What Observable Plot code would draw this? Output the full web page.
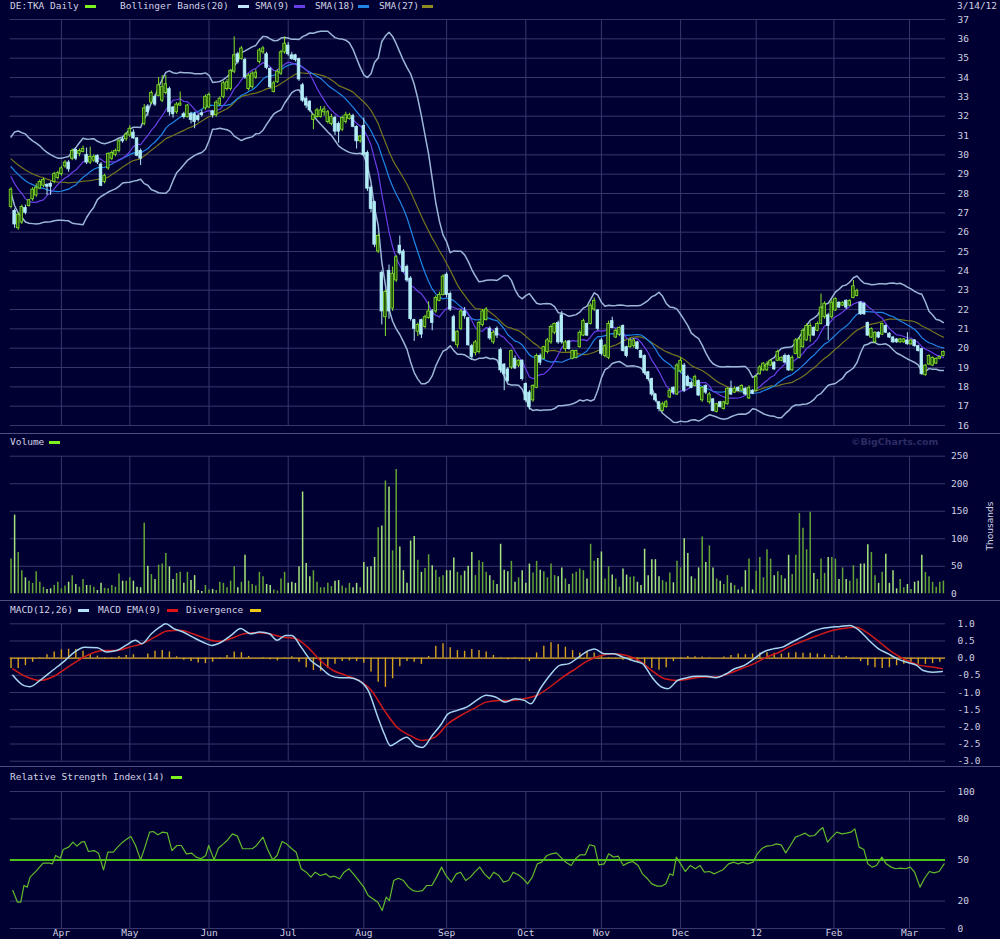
<!DOCTYPE html>
<html><head><meta charset="utf-8">
<script src="https://cdn.jsdelivr.net/npm/d3@7"></script>
<script src="https://cdn.jsdelivr.net/npm/@observablehq/plot@0.6"></script>
<style>
body{margin:0;background:#000033;}
#chart{position:relative;width:1000px;height:939px;overflow:hidden;background:#000033;font-family:"DejaVu Sans Mono",monospace;font-size:9.5px;color:#d2d2e2;}
.panel{position:absolute;left:0;}
.lbl{position:absolute;white-space:pre;line-height:10px;height:10px;}
.sw{position:absolute;height:3px;width:11px;}
.sep{position:absolute;left:0;width:1000px;height:1px;background:#4e4e80;}
</style></head>
<body><div id="chart"></div>
<script>
// ---------- data ----------
const monthTicks = [14,33,55,77,98,121,143,164,186,207,228.6,249.6];
const monthLabels = ["Apr","May","Jun","Jul","Aug","Sep","Oct","Nov","Dec","12","Feb","Mar"];

const opens = [
27.3,27.1,26.2,26.5,27.25,27.35,27.7,27.9,28.25,28.4,
28.45,28.5,28.6,28.8,29.0,29.4,29.6,29.8,30.25,30.05,
30.15,30.0,29.6,29.7,29.95,29.5,28.6,29.3,29.8,30.0,
30.2,30.8,30.8,31.0,31.15,30.85,30.2,31.6,32.5,32.7,
33.0,33.05,32.8,33.2,33.4,32.45,32.2,32.55,32.1,31.95,
32.1,32.1,32.0,32.15,32.4,32.45,32.25,32.05,32.6,33.0,
33.4,33.4,34.3,35.2,34.95,34.9,33.4,33.5,34.0,34.8,
35.3,35.2,34.45,33.25,33.75,34.2,35.3,35.65,35.15,35.15,
34.95,33.6,32.9,32.75,31.8,31.95,31.95,32.2,31.7,31.6,
31.9,31.6,31.3,31.7,31.85,32.0,31.45,30.7,31.5,30.1,
28.3,27.55,25.0,23.9,21.6,24.0,22.05,23.5,25.3,25.0,
24.2,23.6,21.45,20.85,21.45,21.1,21.55,21.9,21.9,22.45,
22.75,23.8,22.8,21.6,20.15,21.0,21.9,21.55,20.1,19.75,
19.8,21.2,21.45,21.0,20.3,21.0,19.9,19.15,18.9,19.0,
19.45,19.1,19.35,18.15,17.7,17.3,17.95,19.6,19.45,19.8,
20.3,20.8,21.3,21.7,19.95,20.35,19.45,19.5,20.05,20.65,
21.25,21.25,22.0,21.95,20.4,19.6,19.5,21.4,20.55,20.7,
21.15,20.05,20.05,20.1,20.3,19.85,19.6,18.75,18.4,17.6,
17.2,16.75,16.95,17.45,17.95,17.6,18.8,19.1,18.5,18.2,
18.05,18.3,17.3,18.05,17.2,17.35,16.7,17.2,16.85,17.1,
17.9,17.7,17.95,17.8,17.9,17.4,17.8,17.8,18.65,18.85,
18.85,19.1,19.25,19.35,19.35,19.6,19.6,18.85,19.7,19.5,
20.05,20.4,20.65,21.05,20.9,21.25,21.6,21.7,21.6,21.95,
22.35,22.2,22.45,22.2,22.6,22.7,22.35,22.3,21.3,20.55,
20.3,20.8,20.7,21.15,20.75,20.55,20.45,20.3,20.3,20.4,
20.2,20.4,20.1,19.95,18.6,19.15,19.1,19.2,19.45,19.6];
const closes = [
28.2,26.4,26.9,27.3,27.0,27.65,28.2,28.3,28.6,28.7,
28.35,28.35,29.0,29.05,29.3,29.6,29.25,30.2,29.8,30.2,
30.3,29.6,29.9,29.9,29.6,28.4,28.9,30.05,30.1,30.2,
30.7,30.7,31.05,31.35,30.85,29.95,29.8,32.4,32.2,33.2,
32.6,33.6,33.5,33.65,32.2,32.1,32.6,32.65,31.95,32.55,
31.8,31.7,31.8,32.05,33.0,33.1,32.05,32.7,32.9,33.7,
33.75,34.35,35.15,34.8,35.5,34.0,34.1,34.2,34.25,35.4,
35.5,34.5,33.5,33.7,34.3,35.3,35.75,35.2,34.95,34.9,
33.9,32.8,32.55,32.3,32.05,32.3,32.3,32.35,32.2,31.95,
31.2,31.2,31.9,32.05,32.05,31.45,30.7,30.95,30.0,28.25,
27.2,25.35,25.8,21.9,22.9,21.9,23.85,24.7,24.9,23.95,
23.5,21.5,21.0,21.2,20.7,21.6,21.9,21.3,22.6,22.75,
23.7,22.75,22.0,20.35,20.85,21.9,21.65,20.15,19.55,20.3,
21.3,21.9,22.0,20.5,20.8,20.65,18.85,18.65,18.3,19.85,
18.95,19.35,18.4,17.3,16.95,18.05,19.6,19.25,20.05,20.4,
21.1,21.25,20.3,20.3,20.3,19.95,19.85,19.85,20.8,21.4,
20.65,22.2,22.45,21.0,19.7,20.1,21.25,21.05,20.9,21.05,
19.85,19.6,20.4,20.4,19.95,19.5,18.7,18.4,17.6,17.3,
16.85,17.1,17.2,17.8,17.7,19.1,19.35,17.8,18.05,17.95,
18.5,17.55,17.95,17.7,17.6,16.75,17.1,16.95,17.2,17.9,
17.6,17.9,17.8,18.05,17.6,17.95,17.65,18.5,19.0,19.2,
19.15,19.35,18.9,19.8,19.5,19.25,18.85,19.5,20.4,20.45,
20.9,21.15,21.15,20.65,21.25,22.1,22.3,21.15,22.35,22.55,
22.1,22.35,22.1,22.45,23.2,22.95,21.75,21.75,20.65,21.0,
20.8,20.55,21.25,20.8,20.55,20.3,20.3,20.45,20.45,20.2,
20.4,20.1,19.85,18.65,19.1,19.6,19.5,19.45,19.55,19.8];
const highs = [
28.3,27.2,27.0,27.4,27.4,27.7,28.3,28.5,28.7,28.8,
28.5,28.6,29.1,29.15,29.4,29.7,29.7,30.3,30.3,30.3,
30.45,30.35,30.4,30.0,30.0,29.6,29.0,30.1,30.2,30.3,
30.8,30.9,31.15,31.5,31.3,30.9,30.3,32.6,32.6,33.3,
33.1,34.0,34.1,34.1,33.5,32.5,32.7,33.25,32.2,32.6,
32.2,32.2,32.1,32.3,33.1,33.2,32.3,32.8,33.0,33.8,
33.9,34.4,36.1,35.3,35.6,35.0,34.2,34.3,34.4,35.5,
35.6,35.3,34.5,33.8,34.4,35.4,36.1,35.8,35.3,35.2,
35.0,33.7,33.0,32.8,32.1,32.4,32.5,32.5,32.3,32.1,
32.0,31.7,32.0,32.2,32.15,32.1,31.5,31.0,31.9,30.2,
28.4,27.6,25.9,24.0,23.0,24.3,24.2,24.8,25.8,25.1,
24.3,23.7,21.5,21.3,21.5,21.7,22.4,22.0,22.7,22.9,
23.8,23.9,22.9,21.7,20.9,22.0,22.1,21.6,20.2,20.4,
21.4,22.0,22.1,21.1,20.9,21.1,20.0,19.2,19.0,19.9,
19.6,19.4,19.4,18.2,17.8,18.1,19.7,19.7,20.1,20.5,
21.2,21.3,21.4,21.9,20.4,20.4,19.9,19.9,20.9,21.5,
21.3,22.3,22.6,22.0,20.5,20.2,21.4,21.6,21.0,21.1,
21.2,20.1,20.5,20.5,20.35,19.9,19.65,18.8,18.45,17.65,
17.25,17.2,17.3,17.9,18.0,19.2,19.5,19.2,18.6,18.3,
18.6,18.35,18.0,18.1,17.7,17.4,17.15,17.25,17.25,17.95,
18.3,18.0,18.0,18.1,17.95,18.05,17.85,18.6,19.1,19.25,
19.3,19.4,19.3,19.9,19.55,19.7,19.65,19.6,20.5,20.55,
21.0,21.25,21.3,21.1,21.35,22.8,22.4,21.8,22.5,22.6,
22.4,22.4,22.5,22.5,23.5,23.05,22.4,22.35,21.35,21.05,
20.85,20.85,21.3,21.2,20.8,20.6,20.5,20.5,20.5,20.8,
20.45,20.45,20.15,20.0,19.15,19.65,19.55,19.5,19.6,19.85];
const lows = [
27.2,26.2,26.1,26.4,26.9,27.3,27.6,27.8,28.2,28.3,
27.9,27.9,28.5,28.7,28.9,29.3,29.1,29.7,29.7,29.9,
30.1,29.5,29.5,29.6,29.5,28.35,28.5,29.2,29.7,29.9,
30.1,30.6,30.7,30.9,30.8,29.9,29.45,31.5,32.0,32.6,
32.5,33.0,32.7,33.1,32.0,31.9,32.1,32.5,31.85,31.9,
31.6,31.35,31.7,31.95,32.3,32.4,31.9,31.95,32.5,32.9,
33.3,33.3,34.2,34.7,34.9,33.9,33.3,33.4,33.9,34.7,
35.2,34.4,33.4,33.2,33.7,34.1,35.2,35.1,34.9,34.8,
33.8,32.7,32.4,32.2,31.3,31.9,31.9,32.0,31.6,31.5,
31.0,30.6,31.2,31.6,31.8,31.4,30.3,30.6,29.9,28.1,
27.0,25.2,24.9,21.2,20.6,21.5,21.9,23.4,24.8,23.9,
23.4,21.4,20.35,20.6,20.5,21.0,21.5,20.9,21.8,22.4,
22.7,22.6,21.9,20.3,20.0,20.9,21.5,20.1,19.4,19.6,
19.7,21.1,21.4,20.4,20.2,20.5,18.7,17.8,18.2,18.9,
18.9,19.0,18.3,17.2,16.8,17.2,17.9,19.1,19.4,19.7,
20.2,20.7,20.2,20.2,19.8,19.9,19.4,19.45,20.0,20.6,
20.6,21.2,21.9,20.9,19.6,19.5,19.4,21.0,20.5,20.6,
19.8,19.5,20.0,20.0,19.9,19.45,18.6,18.3,17.5,17.2,
16.7,16.7,16.9,17.4,17.6,17.55,18.7,17.7,18.0,17.9,
18.0,17.5,17.2,17.6,17.1,16.7,16.65,16.9,16.8,17.05,
17.55,17.65,17.75,17.75,17.55,17.35,17.6,17.75,18.6,18.8,
18.8,19.05,18.85,19.3,19.3,19.2,18.8,18.8,19.65,19.45,
20.0,20.35,20.3,20.6,20.85,21.2,21.5,20.4,21.5,21.9,
22.05,22.15,22.0,22.15,22.55,22.65,21.7,21.7,20.6,20.5,
20.25,20.5,20.65,20.75,20.5,20.25,20.25,20.25,20.25,20.15,
20.15,20.05,19.8,18.6,18.55,19.1,19.05,19.15,19.4,19.55];
// closes of the 26 sessions before the first candle (estimated from where the averages start)
const priorCloses = [30.8,31.0,30.9,30.6,30.4,30.5,30.7,30.4,30.2,30.3,30.1,30.4,29.9,29.6,29.8,30.0,29.6,29.4,29.6,29.5,29.3,29.4,29.0,28.6,28.3,27.9];
// volume, thousands
const volumes = [
63,143,75,42,29,23,19,40,21,12, 8,9,15,21,9,14,21,33,17,12,
26,15,15,12,6,19,10,9,15,12, 36,23,23,29,23,12,11,128,50,35,
26,52,54,73,49,26,37,39,19,39, 24,33,6,4,15,7,8,6,21,19,
11,23,49,11,21,70,23,17,14,39, 31,17,15,7,5,27,39,19,21,19,
49,185,55,31,42,21,11,11,19,13, 23,24,14,10,19,11,19,11,57,48,
49,66,120,123,205,194,78,226,85,42, 19,96,104,61,39,46,71,51,43,30,
33,42,42,65,39,33,41,50,75,33, 60,57,39,33,24,17,90,43,40,59,
21,29,42,19,54,38,59,43,40,29, 54,33,31,47,27,17,36,39,45,42,
27,90,59,64,76,27,49,34,27,12, 45,34,30,31,21,15,81,33,62,62,
31,24,21,38,20,59,47,100,73,31, 27,47,103,57,87,47,27,23,17,33,
19,15,7,12,42,63,7,41,66,29, 80,63,33,40,33,27,70,35,70,146,
119,80,148,37,26,63,37,66,66,63, 26,47,26,23,51,27,54,54,89,75,
33,19,39,72,19,42,9,26,11,17, 8,21,23,70,39,31,21,12,21,23];
// MACD(12,26) line [session, value]
const macdLine = [[0.5,-0.50],[3.6,-0.80],[5.3,-0.83],[8,-0.65],[11.5,-0.36],[15,-0.07],[17.7,0.18],[20.4,0.32],[24,0.30],[26.6,0.18],[29.3,0.22],[31.9,0.37],[34.6,0.52],[36.3,0.42],[39,0.71],[41.3,0.90],[43,1.0],[45.2,0.86],[47.8,0.76],[50.5,0.61],[53.2,0.47],[55.8,0.37],[58.5,0.47],[61.1,0.66],[63.8,0.86],[66.5,0.71],[69.1,0.76],[71.8,0.71],[73.9,0.52],[76.2,0.66],[78,0.66],[80.6,0.32],[83.3,-0.07],[85.9,-0.27],[88.6,-0.50],[91.3,-0.57],[93.9,-0.57],[96.6,-0.65],[99.2,-0.94],[101.9,-1.72],[103.7,-2.21],[105.4,-2.55],[107.2,-2.45],[109.9,-2.30],[112.5,-2.55],[114.3,-2.60],[117,-2.25],[119.6,-1.91],[121.4,-1.62],[124,-1.52],[126.7,-1.42],[129.3,-1.23],[132,-1.08],[134.6,-1.13],[137.3,-1.28],[140,-1.18],[142.6,-1.23],[144.4,-1.33],[147,-0.89],[149.7,-0.50],[152.4,-0.21],[155,-0.16],[157.7,0.03],[160.4,0.22],[162.1,0.27],[164.8,0.13],[167.4,0.13],[170,0.03],[172.7,-0.07],[175.4,-0.16],[178,-0.55],[180.7,-0.84],[182.5,-0.89],[185.1,-0.65],[187.8,-0.57],[190.5,-0.53],[193.1,-0.53],[195.8,-0.57],[198.4,-0.47],[201,-0.31],[203.7,-0.21],[206.4,-0.02],[209,0.18],[211.7,0.27],[214.3,0.32],[217,0.47],[219.7,0.61],[222.3,0.76],[225,0.86],[227.7,0.90],[230.3,0.92],[233,0.95],[235.6,0.81],[238.3,0.52],[241,0.27],[243.6,0.13],[246.2,-0.02],[248.9,-0.12],[251.6,-0.21],[253.4,-0.36],[256,-0.41],[258.7,-0.39]];
// MACD EMA(9) signal line [session, value]
const signalLine = [[0.5,-0.31],[4.4,-0.55],[8.1,-0.65],[11.5,-0.55],[15.1,-0.31],[18.6,-0.07],[22.2,0.13],[25.7,0.22],[29.3,0.22],[32.8,0.32],[36.3,0.42],[39.9,0.61],[43.4,0.79],[47,0.81],[50.5,0.71],[54.1,0.57],[57.6,0.49],[61.1,0.57],[64.7,0.71],[68.2,0.74],[71.8,0.71],[75.3,0.61],[78.9,0.57],[82.4,0.32],[85.9,-0.07],[89.5,-0.36],[93,-0.50],[96.6,-0.65],[100.1,-0.94],[103.7,-1.52],[107.2,-2.01],[110.8,-2.25],[114.3,-2.40],[117.8,-2.30],[121.4,-1.91],[124.9,-1.67],[128.5,-1.47],[132,-1.28],[135.5,-1.23],[139.1,-1.23],[142.6,-1.18],[146.2,-1.08],[149.7,-0.84],[153.3,-0.55],[156.8,-0.31],[160.3,-0.07],[163.9,0.08],[167.4,0.13],[171,0.08],[174.5,-0.07],[178,-0.36],[181.6,-0.60],[185.1,-0.65],[188.7,-0.60],[192.2,-0.55],[195.8,-0.55],[199.3,-0.45],[202.8,-0.31],[206.4,-0.16],[209.9,0.03],[213.5,0.18],[217,0.37],[220.6,0.52],[224.1,0.66],[227.7,0.79],[231.2,0.86],[234.7,0.90],[238.3,0.71],[241.8,0.42],[245.4,0.13],[248.9,-0.07],[252.5,-0.21],[256,-0.26],[258.7,-0.31]];
// divergence histogram [session, value]
const divergence = [[0,-0.30],[2,-0.30],[4,-0.22],[6,-0.12],[8,0.02],[10,0.10],[12,0.18],[14,0.24],[16,0.26],[18,0.25],[20,0.20],[22,0.10],[24,0.06],[26,-0.04],[28,0.02],[30,0.05],[32,0.08],[34,0.10],[36,0.00],[38,0.12],[40,0.20],[42,0.22],[44,0.18],[46,0.04],[48,-0.06],[50,-0.10],[52,-0.14],[54,-0.16],[56,-0.12],[58,-0.04],[60,0.08],[62,0.18],[64,0.16],[66,0.05],[68,0.00],[70,0.02],[72,-0.05],[74,-0.08],[76,0.02],[78,0.04],[80,-0.12],[82,-0.28],[84,-0.36],[86,-0.38],[88,-0.30],[90,-0.18],[92,-0.10],[94,-0.08],[96,-0.10],[98,-0.15],[100,-0.40],[102,-0.70],[104,-0.85],[106,-0.60],[108,-0.25],[110,-0.10],[112,-0.12],[114,-0.18],[116,0.05],[118,0.35],[120,0.42],[122,0.30],[124,0.22],[126,0.20],[128,0.25],[130,0.22],[132,0.18],[134,0.08],[136,0.02],[138,-0.05],[140,0.02],[142,-0.05],[144,-0.10],[146,0.15],[148,0.35],[150,0.45],[152,0.40],[154,0.32],[156,0.22],[158,0.15],[160,0.20],[162,0.15],[164,0.05],[166,0.02],[168,-0.02],[170,-0.06],[172,-0.08],[174,-0.10],[176,-0.22],[178,-0.30],[180,-0.35],[182,-0.28],[184,-0.10],[186,0.02],[188,0.05],[190,0.04],[192,0.03],[194,0.02],[196,0.00],[198,0.03],[200,0.08],[202,0.12],[204,0.10],[206,0.12],[208,0.15],[210,0.16],[212,0.14],[214,0.12],[216,0.15],[218,0.16],[220,0.14],[222,0.14],[224,0.12],[226,0.10],[228,0.08],[230,0.06],[232,0.05],[234,0.02],[236,-0.10],[238,-0.22],[240,-0.28],[242,-0.30],[244,-0.28],[246,-0.22],[248,-0.18],[250,-0.14],[252,-0.18],[254,-0.18],[256,-0.16],[258,-0.12]];
// RSI(14) [session, value]
const rsiLine = [[0.5,27.7],[1.8,19.2],[2.7,19.2],[3.6,31.4],[4.5,30.2],[5.3,37.5],[7.1,42.3],[8.9,47.7],[10.6,47.7],[11.5,47.2],[12.4,53.3],[13.7,51.3],[14.5,57.7],[16,59.4],[17.2,63.0],[18.3,60.1],[19.5,63.0],[20.4,63.5],[21.5,56.2],[23.1,56.9],[24.3,55.0],[25.7,42.8],[26.9,55.7],[28.4,55.7],[29.6,59.4],[31,63.0],[32.3,65.5],[33.3,67.2],[34.6,60.6],[36,50.1],[37.2,59.4],[38.5,70.3],[39.5,70.8],[40.8,68.4],[42,70.3],[43.4,69.8],[44.7,56.9],[46.1,60.6],[47.3,60.6],[48.7,54.5],[50.2,55.0],[51.4,52.1],[52.8,50.9],[54.1,53.3],[54.9,60.6],[56.4,50.1],[57.6,58.6],[59,61.8],[60.3,65.0],[61.5,69.1],[62.9,67.4],[64.3,58.2],[65.6,58.2],[67,58.2],[68.2,60.6],[70,66.7],[71.2,58.2],[72.7,50.1],[73.9,53.3],[75.3,63.5],[76.5,61.8],[78,58.2],[79.2,55.7],[80.6,43.6],[82,41.1],[83.3,37.5],[84.5,41.1],[85.9,38.7],[87.4,39.9],[88.6,37.5],[89.8,38.2],[91.3,36.3],[92.5,41.1],[93.9,43.6],[95.1,39.9],[96.6,35.0],[98,30.2],[99.2,24.1],[100.5,21.7],[101.9,19.2],[103.1,13.1],[104.2,22.9],[105.1,20.4],[106.3,35.0],[107.6,36.7],[109,35.0],[110.4,30.2],[111.6,27.7],[112.9,27.0],[114.3,27.7],[115.5,31.4],[116.9,31.4],[118.2,37.5],[119.6,44.8],[120.8,38.7],[122.3,33.8],[123.7,39.9],[124.9,41.1],[126.3,35.0],[127.6,37.5],[128.8,41.1],[130.2,44.8],[131.5,39.9],[132.9,36.3],[134.1,41.1],[135.5,38.7],[136.8,33.8],[138.2,35.0],[139.5,41.1],[140.9,39.2],[142.3,36.3],[143.5,32.6],[144.8,37.5],[146.2,47.2],[147.4,48.4],[148.9,53.3],[150.1,54.5],[151.5,55.2],[152.7,52.1],[154.1,48.4],[155.6,46.0],[156.8,50.9],[158.1,53.8],[159.5,53.8],[160.7,61.1],[162.1,60.1],[163.3,46.5],[164.8,47.2],[166,54.5],[167.4,52.1],[168.7,52.8],[170.1,46.0],[171.3,47.9],[172.7,48.9],[174.2,46.0],[175.4,39.9],[176.8,36.3],[178,32.6],[179.5,30.9],[180.7,30.9],[181.9,32.6],[183,39.9],[183.9,38.7],[184.8,52.1],[186,47.2],[187.3,41.6],[188.7,46.0],[190.1,43.6],[191.4,46.0],[192.6,41.1],[194,41.6],[195.4,39.9],[196.7,41.6],[197.9,43.1],[199.3,47.2],[200.8,48.4],[202,47.2],[203.2,48.4],[204.6,47.2],[206.1,48.4],[207.3,54.5],[208.7,58.6],[209.9,60.1],[211.4,60.6],[212.6,61.8],[213.9,61.1],[215.2,55.2],[216.5,60.6],[217.9,66.7],[219.1,67.9],[220.6,69.6],[221.8,67.4],[223.2,67.9],[224.5,71.5],[225.5,73.7],[226.8,63.0],[228,66.7],[229.4,70.3],[230.8,69.1],[232.1,69.6],[233.3,70.3],[234.4,72.7],[235.6,59.4],[236.9,57.7],[238,47.2],[239.2,44.8],[240.4,46.0],[241.9,52.1],[243.1,47.2],[244.5,44.8],[245.7,43.6],[247.1,44.0],[248.5,43.6],[249.8,44.8],[251,41.1],[252.5,30.2],[253.7,36.3],[255.1,41.6],[256.4,40.6],[257.8,41.6],[259.2,47.2]];

// ---------- styling ----------
const GRID = "#37376c", TXT = "#d0d0e0";
const C_UP = "#86e62a", C_UPFILL = "#23500c", C_DN = "#b2ecf6";
const C_BB = "#9bb6d6", C_S9 = "#6a3ee6", C_S18 = "#1f86e8", C_S27 = "#74741f";
const FONT = "DejaVu Sans Mono";

const chart = document.getElementById("chart");
function addLbl(text, left, top, extra) {
  const d = document.createElement("div"); d.className = "lbl"; d.textContent = text;
  d.style.left = left + "px"; d.style.top = top + "px";
  if (extra) Object.assign(d.style, extra);
  chart.appendChild(d);
}
function addSw(color, left, top) {
  const d = document.createElement("div"); d.className = "sw";
  d.style.left = left + "px"; d.style.top = top + "px"; d.style.background = color;
  chart.appendChild(d);
}
function addSep(top) {
  const d = document.createElement("div"); d.className = "sep"; d.style.top = top + "px"; chart.appendChild(d);
}
function place(svg, top) {
  const w = document.createElement("div"); w.className = "panel"; w.style.top = top + "px";
  w.appendChild(svg); chart.appendChild(w);
}

// derived tables
const days = closes.map((c, i) => ({i, o: opens[i], c, h: highs[i], l: lows[i], v: volumes[i], up: c >= opens[i]}));
const all = priorCloses.concat(closes), P = priorCloses.length;
function win(n, i) { return all.slice(P + i - n + 1, P + i + 1); }
const ind = closes.map((c, i) => {
  const w20 = win(20, i), m = d3.mean(w20);
  const sd = Math.sqrt(d3.mean(w20, v => (v - m) ** 2));
  return {i, s9: d3.mean(win(9, i)), s18: d3.mean(win(18, i)), s27: d3.mean(win(27, i)), bu: m + 2 * sd, bl: m - 2 * sd};
});
const months = monthTicks.map((t, k) => ({t, label: monthLabels[k]}));

const common = {
  width: 1000, marginLeft: 9.8, marginRight: 53.5,
  x: {domain: [-0.2, 260], axis: null},
  style: {background: "transparent", color: TXT, fontFamily: FONT, fontSize: "9.5px", overflow: "visible"}
};
const X1 = -0.2, X2 = 259.6;

// ---------- price panel ----------
const pricePlot = Plot.plot({
  ...common, height: 433, marginTop: 19, marginBottom: 8,
  y: {domain: [16, 37], axis: null, label: null},
  marks: [
    Plot.ruleY(d3.range(16, 38), {x1: X1, x2: X2, stroke: GRID}),
    Plot.ruleX(monthTicks, {y1: 16, y2: 37, stroke: GRID}),
    Plot.line(ind, {x: "i", y: "bu", stroke: C_BB, strokeWidth: 1.5}),
    Plot.line(ind, {x: "i", y: "bl", stroke: C_BB, strokeWidth: 1.5}),
    Plot.line(ind, {x: "i", y: "s27", stroke: C_S27, strokeWidth: 1.2}),
    Plot.line(ind, {x: "i", y: "s18", stroke: C_S18, strokeWidth: 1.2}),
    Plot.line(ind, {x: "i", y: "s9", stroke: C_S9, strokeWidth: 1.2}),
    Plot.ruleX(days, {x: "i", y1: "l", y2: "h", stroke: d => d.up ? C_UP : C_DN, strokeWidth: 1}),
    Plot.rect(days, {x1: d => d.i - 0.36, x2: d => d.i + 0.36, y1: d => Math.min(d.o, d.c), y2: d => Math.max(d.o, d.c),
      fill: d => d.up ? C_UPFILL : C_DN, stroke: d => d.up ? C_UP : C_DN, strokeWidth: 0.8}),
    Plot.axisY(d3.range(16, 38), {anchor: "right", tickSize: 0, tickPadding: 10.5, fill: TXT, label: null})
  ]
});
place(pricePlot, 0);

// ---------- volume panel ----------
const volPlot = Plot.plot({
  ...common, height: 167, marginTop: 22.7, marginBottom: 6.7,
  y: {domain: [0, 250], axis: null, label: null},
  marks: [
    Plot.ruleY([50, 100, 150, 200, 250], {x1: X1, x2: X2, stroke: GRID}),
    Plot.ruleX(monthTicks, {y1: 0, y2: 250, stroke: GRID}),
    Plot.ruleX(days, {x: "i", y1: 0, y2: "v", stroke: d => d.up ? "#63a534" : "#a6e57c", strokeWidth: 1.5}),
    Plot.axisY([0, 50, 100, 150, 200, 250], {anchor: "right", tickSize: 0, tickPadding: 4, fill: TXT, label: null})
  ]
});
place(volPlot, 433);

// ---------- MACD panel ----------
const macdPlot = Plot.plot({
  ...common, height: 166, marginTop: 23.3, marginBottom: 5.3,
  y: {domain: [-3, 1], axis: null, label: null},
  marks: [
    Plot.ruleY(d3.range(-3, 1.01, 0.5), {x1: X1, x2: X2, stroke: GRID}),
    Plot.ruleX(monthTicks, {y1: -3, y2: 1, stroke: GRID}),
    Plot.ruleX(divergence, {x: d => d[0], y1: 0, y2: d => d[1], stroke: "#d6a21e", strokeWidth: 1.4}),
    Plot.ruleY([0], {x1: X1, x2: X2, stroke: "#d6a21e", strokeWidth: 1.2}),
    Plot.line(signalLine, {x: d => d[0], y: d => d[1], stroke: "#cf1a1a", strokeWidth: 1.5, curve: "monotone-x"}),
    Plot.line(macdLine, {x: d => d[0], y: d => d[1], stroke: "#a6d4ee", strokeWidth: 1.5, curve: "monotone-x"}),
    Plot.axisY(d3.range(-3, 1.01, 0.5), {anchor: "right", tickSize: 0, tickPadding: 10.5, fill: TXT, label: null,
      tickFormat: d => (Math.abs(d) < 1e-9 ? 0 : d).toFixed(1)})
  ]
});
place(macdPlot, 600);

// ---------- RSI panel ----------
const rsiPlot = Plot.plot({
  ...common, height: 173, marginTop: 25, marginBottom: 11,
  y: {domain: [0, 100], axis: null, label: null},
  marks: [
    Plot.ruleY([0, 20, 80, 100], {x1: X1, x2: X2, stroke: GRID}),
    Plot.ruleX(monthTicks, {y1: 0, y2: 100, stroke: GRID}),
    Plot.ruleY([50], {x1: X1, x2: X2, stroke: "#4cc21a", strokeWidth: 2}),
    Plot.line(rsiLine, {x: d => d[0], y: d => d[1], stroke: "#62bb2a", strokeWidth: 1.2}),
    Plot.axisY([0, 20, 50, 80, 100], {anchor: "right", tickSize: 0, tickPadding: 10.5, fill: TXT, label: null}),
    Plot.text(months, {x: "t", y: -3.2, text: "label", fill: TXT, fontSize: 9.5})
  ]
});
place(rsiPlot, 766);

// ---------- separators, legends, titles ----------
addSep(433); addSep(600); addSep(766);

addLbl("DE:TKA Daily", 10, 1); addSw("#7cf21e", 85, 5);
addLbl("Bollinger Bands(20)", 120, 1); addSw("#bfe6fb", 238, 5);
addLbl("SMA(9)", 255, 1); addSw(C_S9, 294, 5);
addLbl("SMA(18)", 315, 1); addSw(C_S18, 358, 5);
addLbl("SMA(27)", 379, 1); addSw("#8c8c22", 422, 5);
addLbl("3/14/12", 957, 1);

addLbl("Volume", 10, 437); addSw("#7cf21e", 49, 441);
addLbl("©BigCharts.com", 851, 437, {color: "#2c2c62", fontFamily: "DejaVu Sans", fontWeight: "bold", fontSize: "9.5px"});
addLbl("Thousands", 948, 521, {transform: "rotate(-90deg)", transformOrigin: "42px 5px", width: "84px", textAlign: "center", fontFamily: "DejaVu Sans", fontSize: "9px"});

addLbl("MACD(12,26)", 10, 605); addSw("#b4e2fa", 78, 609);
addLbl("MACD EMA(9)", 98, 605); addSw("#e01414", 167, 609);
addLbl("Divergence", 186, 605); addSw("#f0c814", 250, 609);

addLbl("Relative Strength Index(14)", 10, 772); addSw("#7cf21e", 171, 776);
</script>
</body></html>
